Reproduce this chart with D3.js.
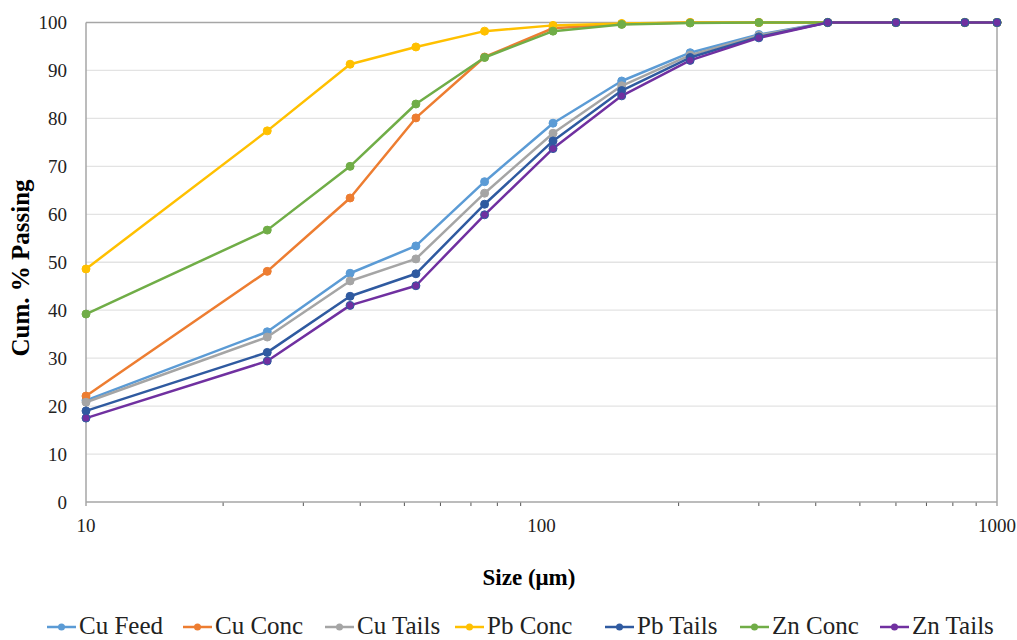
<!DOCTYPE html>
<html>
<head>
<meta charset="utf-8">
<script src="https://cdn.jsdelivr.net/npm/d3@7"></script>
<style>
  html, body { margin: 0; padding: 0; background: #fff; }
  svg { display: block; }
</style>
</head>
<body>
<svg id="chart" width="1017" height="640"></svg>
<script>
// Particle sizes (µm) at which cumulative passing was measured
const sizes = [10, 25, 38, 53, 75, 106, 150, 212, 300, 425, 600, 850, 1000];

// Cumulative % passing for each stream
const cuFeed  = [21.2, 35.5, 47.7, 53.4, 66.8, 79.0, 87.8, 93.7, 97.5, 100, 100, 100, 100];
const cuConc  = [22.1, 48.1, 63.4, 80.1, 92.8, 98.8, 99.7, 100, 100, 100, 100, 100, 100];
const cuTails = [20.8, 34.4, 46.1, 50.7, 64.4, 76.9, 86.8, 93.2, 97.3, 100, 100, 100, 100];
const pbConc  = [48.6, 77.4, 91.3, 94.9, 98.2, 99.4, 99.8, 100, 100, 100, 100, 100, 100];
const pbTails = [19.0, 31.2, 42.9, 47.6, 62.1, 75.3, 85.8, 92.7, 97.0, 100, 100, 100, 100];
const znConc  = [39.2, 56.7, 70.0, 83.0, 92.7, 98.2, 99.6, 99.9, 100, 100, 100, 100, 100];
const znTails = [17.5, 29.4, 41.0, 45.1, 59.9, 73.7, 84.7, 92.1, 96.8, 100, 100, 100, 100];

const seriesNames = ["Cu Feed", "Cu Conc", "Cu Tails", "Pb Conc", "Pb Tails", "Zn Conc", "Zn Tails"];
const seriesValues = [cuFeed, cuConc, cuTails, pbConc, pbTails, znConc, znTails];
const seriesColors = ["#5B9BD5", "#ED7D31", "#A5A5A5", "#FFC000", "#2F5AA0", "#70AD47", "#7030A0"];

const yTicks = [0, 10, 20, 30, 40, 50, 60, 70, 80, 90, 100];
const xTicks = [10, 100, 1000];

const FONT = "Liberation Serif";
const svg = d3.select("#chart");
const plot = { left: 86, right: 997, top: 22.5, bottom: 502 };

const x = d3.scaleLog().domain([10, 1000]).range([plot.left, plot.right]);
const y = d3.scaleLinear().domain([0, 100]).range([plot.bottom, plot.top]);

// horizontal gridlines
svg.append("g")
  .selectAll("line")
  .data(yTicks.filter(d => d > 0))
  .join("line")
  .attr("x1", plot.left).attr("x2", plot.right)
  .attr("y1", d => y(d)).attr("y2", d => y(d))
  .attr("stroke", d => d === 100 ? "#A6A6A6" : "#E3E3E3")
  .attr("stroke-width", d => d === 100 ? 1.5 : 1.3);

// y tick labels
svg.append("g")
  .selectAll("text")
  .data(yTicks)
  .join("text")
  .attr("x", 67)
  .attr("y", d => y(d) + 6.5)
  .attr("text-anchor", "end")
  .style("font-family", FONT)
  .attr("font-size", 19)
  .attr("fill", "#222")
  .text(d => d);

// minor ticks along the log axis
const minor = [];
[10, 100].forEach(dec => { for (let k = 2; k <= 9; k++) minor.push(dec * k); });
svg.append("g")
  .selectAll("line")
  .data(minor)
  .join("line")
  .attr("x1", d => x(d)).attr("x2", d => x(d))
  .attr("y1", plot.bottom).attr("y2", plot.bottom + 4)
  .attr("stroke", "#555").attr("stroke-width", 1);

// axis lines and right frame edge
svg.append("line")
  .attr("x1", plot.left).attr("x2", plot.right)
  .attr("y1", plot.bottom).attr("y2", plot.bottom)
  .attr("stroke", "#A6A6A6").attr("stroke-width", 1.5);
svg.append("line")
  .attr("x1", plot.left).attr("x2", plot.left)
  .attr("y1", plot.top).attr("y2", plot.bottom + 4)
  .attr("stroke", "#A6A6A6").attr("stroke-width", 1.5);
svg.append("line")
  .attr("x1", plot.right).attr("x2", plot.right)
  .attr("y1", plot.top).attr("y2", plot.bottom + 4)
  .attr("stroke", "#A6A6A6").attr("stroke-width", 1.5);

// x tick labels
svg.append("g")
  .selectAll("text")
  .data(xTicks)
  .join("text")
  .attr("x", d => x(d))
  .attr("y", 532)
  .attr("text-anchor", "middle")
  .style("font-family", FONT)
  .attr("font-size", 19)
  .attr("fill", "#222")
  .text(d => d);

// axis titles
svg.append("text")
  .attr("x", 529).attr("y", 585)
  .attr("text-anchor", "middle")
  .style("font-family", FONT)
  .attr("font-size", 23).attr("font-weight", "bold")
  .text("Size (μm)");
svg.append("text")
  .attr("transform", "translate(29,268) rotate(-90)")
  .attr("text-anchor", "middle")
  .style("font-family", FONT)
  .attr("font-size", 25).attr("font-weight", "bold")
  .text("Cum. % Passing");

// series lines and markers
const line = d3.line().x((d, i) => x(sizes[i])).y(d => y(d));
seriesValues.forEach((vals, s) => {
  const g = svg.append("g");
  g.append("path")
    .datum(vals)
    .attr("d", line)
    .attr("fill", "none")
    .attr("stroke", seriesColors[s])
    .attr("stroke-width", 2.5)
    .attr("stroke-linejoin", "round");
  g.selectAll("circle")
    .data(vals)
    .join("circle")
    .attr("cx", (d, i) => x(sizes[i]))
    .attr("cy", d => y(d))
    .attr("r", 4)
    .attr("fill", seriesColors[s])
    .attr("stroke", s === 6 ? "#2F5AA0" : seriesColors[s])
    .attr("stroke-width", 1);
});

// legend, one entry per series in a single row
const legendStarts = [47, 183, 325, 455, 605, 740, 880];
const ly = 627;
const legend = svg.append("g");
seriesNames.forEach((name, s) => {
  const lx = legendStarts[s];
  legend.append("line")
    .attr("x1", lx).attr("x2", lx + 29)
    .attr("y1", ly).attr("y2", ly)
    .attr("stroke", seriesColors[s]).attr("stroke-width", 2.5);
  legend.append("circle")
    .attr("cx", lx + 14.5).attr("cy", ly).attr("r", 3.5)
    .attr("fill", seriesColors[s]);
  legend.append("text")
    .attr("x", lx + 32).attr("y", 634)
    .style("font-family", FONT)
    .attr("font-size", 25)
    .attr("fill", "#222")
    .text(name);
});
</script>
</body>
</html>
